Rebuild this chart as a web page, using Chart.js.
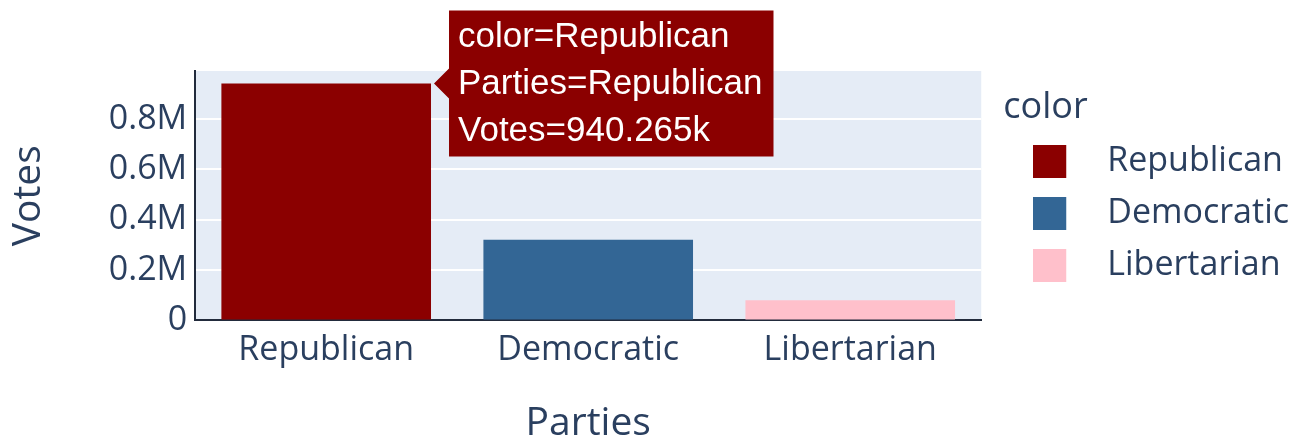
<!DOCTYPE html>
<html>
<head>
<meta charset="utf-8">
<script src="https://cdn.jsdelivr.net/npm/chart.js@4.4.1/dist/chart.umd.min.js"></script>
<style>
    html, body { margin: 0; padding: 0; background: #ffffff; }
    #wrap { width: 1305px; height: 441px; position: relative; }
</style>
</head>
<body>
<div id="wrap"><canvas id="votes-chart"></canvas></div>
<script>
// Data.
const PARTIES = ["Republican", "Democratic", "Libertarian"];
const VOTES = [940265, 320000, 80000];
const PARTY_COLORS = ["#8b0000", "#336695", "#ffc0cb"];
const Y_TICKS = [0, 200000, 400000, 600000, 800000];
const Y_TICK_LABELS = ["0", "0.2M", "0.4M", "0.6M", "0.8M"];
const Y_MAX = 990000;

const TEXT_COLOR = "#2a3f5f";
const AXIS_COLOR = "#222b3c";
const PLOT_BG = "#e5ecf6";
const LEGEND_NUDGE = 22;

function formatVotes(v) {
    // plotly-style hover number: 940265 -> 940.265k
    return (v / 1000).toFixed(3) + "k";
}

const swatchCache = new Map();
function legendSwatch(color) {
    // square on the left of a slightly wider transparent canvas, so the
    // legend box sits indented under the title with room before the text
    if (swatchCache.has(color)) return swatchCache.get(color);
    const c = document.createElement("canvas");
    c.width = 45;
    c.height = 33;
    const g = c.getContext("2d");
    g.fillStyle = color;
    g.fillRect(0, 0, 33, 33);
    swatchCache.set(color, c);
    return c;
}

const plotBackground = {
    id: "plotBackground",
    beforeDraw(chart) {
        const { ctx, chartArea: a } = chart;
        ctx.save();
        ctx.fillStyle = PLOT_BG;
        ctx.fillRect(a.left, a.top, a.width, a.height);
        ctx.restore();
    },
};

const legendNudge = {
    id: "legendNudge",
    afterLayout(chart) {
        const lg = chart.legend;
        if (!lg) return;
        lg.left += LEGEND_NUDGE;
        lg.right += LEGEND_NUDGE;
    },
};

function initVotesChart() {
    const canvas = document.getElementById("votes-chart");
    if (!canvas) return;

    Chart.defaults.font.family = "'Open Sans', sans-serif";
    Chart.defaults.color = TEXT_COLOR;

    // hover label anchored on the right edge of the bar top, like plotly
    Chart.Tooltip.positioners.barEdge = function (items) {
        if (!items.length) return false;
        const el = items[0].element;
        return { x: el.x + el.width / 2, y: el.y };
    };

    const datasets = PARTIES.map((p, i) => ({
        label: p,
        data: PARTIES.map((_, j) => (j === i ? VOTES[i] : null)),
        backgroundColor: PARTY_COLORS[i],
        grouped: false,
        barPercentage: 0.8,
        categoryPercentage: 1.0,
    }));

    const chart = new Chart(canvas, {
        type: "bar",
        data: { labels: PARTIES, datasets },
        plugins: [plotBackground, legendNudge],
        options: {
            responsive: true,
            maintainAspectRatio: false,
            animation: false,
            events: [],
            layout: { padding: { top: 71, right: 28, bottom: 0, left: 0 } },
            plugins: {
                legend: {
                    position: "right",
                    align: "start",
                    title: {
                        display: true,
                        text: "color",
                        position: "start",
                        color: TEXT_COLOR,
                        font: { size: 36, lineHeight: 1.0 },
                        padding: { top: 19, bottom: 0 },
                    },
                    labels: {
                        usePointStyle: true,
                        pointStyleWidth: 69,
                        padding: 18,
                        color: TEXT_COLOR,
                        font: { size: 34 },
                        generateLabels(chart) {
                            const items = Chart.defaults.plugins.legend.labels.generateLabels(chart);
                            items.forEach(it => { it.pointStyle = legendSwatch(it.fillStyle); });
                            return items;
                        },
                    },
                },
                tooltip: {
                    position: "barEdge",
                    xAlign: "left",
                    yAlign: "center",
                    backgroundColor: "#8b0000",
                    bodyColor: "#ffffff",
                    bodyFont: { family: "'Liberation Sans', Arial, sans-serif", size: 35 },
                    bodySpacing: 5,
                    padding: { top: 6, bottom: 4, left: 9, right: 11 },
                    cornerRadius: 0,
                    caretSize: 15,
                    caretPadding: 3,
                    displayColors: false,
                    borderWidth: 0,
                    callbacks: {
                        title: () => [],
                        label: ctx => [
                            "color=" + ctx.dataset.label,
                            "Parties=" + ctx.label,
                            "Votes=" + formatVotes(ctx.raw),
                        ],
                    },
                },
            },
            scales: {
                x: {
                    grid: { display: false, drawTicks: false },
                    border: { display: true, color: AXIS_COLOR, width: 2 },
                    ticks: { padding: 10, color: TEXT_COLOR, font: { size: 34 } },
                    title: {
                        display: true,
                        text: "Parties",
                        color: TEXT_COLOR,
                        font: { size: 39 },
                        padding: { top: 19, bottom: -6 },
                    },
                },
                y: {
                    min: 0,
                    max: Y_MAX,
                    afterBuildTicks: scale => {
                        scale.ticks = Y_TICKS.map(v => ({ value: v }));
                    },
                    grid: {
                        color: c => (c.tick && c.tick.value === 0 ? "rgba(0,0,0,0)" : "#ffffff"),
                        lineWidth: 2,
                        drawTicks: false,
                    },
                    border: { display: true, color: AXIS_COLOR, width: 2 },
                    ticks: {
                        padding: 8,
                        color: TEXT_COLOR,
                        font: { size: 34 },
                        callback: v => Y_TICK_LABELS[Y_TICKS.indexOf(v)] ?? "",
                    },
                    title: {
                        display: true,
                        text: "Votes",
                        color: TEXT_COLOR,
                        font: { size: 39 },
                        padding: { top: 5, bottom: 49 },
                    },
                },
            },
        },
    });

    chart.tooltip.setActiveElements([{ datasetIndex: 0, index: 0 }], { x: 0, y: 0 });
    chart.update();
}

if (document.readyState === "loading") {
    document.addEventListener("DOMContentLoaded", initVotesChart);
} else {
    initVotesChart();
}
</script>
</body>
</html>
